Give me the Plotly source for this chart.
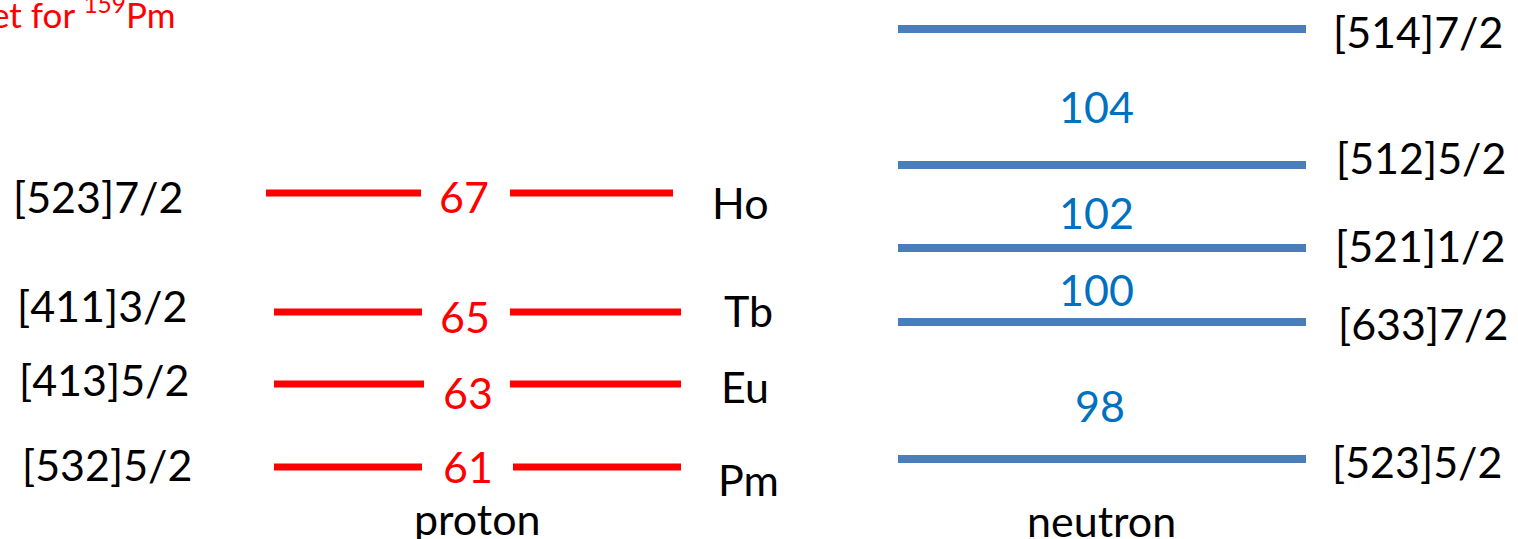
import plotly.graph_objects as go

# Single-particle orbitals (Nilsson labels) and level positions (arb. units, up = higher)
proton_labels = ["[532]5/2", "[413]5/2", "[411]3/2", "[523]7/2"]
proton_numbers = ["61", "63", "65", "67"]
proton_elements = ["Pm", "Eu", "Tb", "Ho"]
proton_energy = [72, 155, 227, 346]

neutron_labels = ["[523]5/2", "[633]7/2", "[521]1/2", "[512]5/2", "[514]7/2"]
neutron_energy = [80, 217, 291, 374, 510]
neutron_gap_numbers = ["98", "100", "102", "104"]
neutron_gap_energy = [134, 250, 327, 433]

title_text = "et for <sup>159</sup>Pm"

W, H = 1518, 539
FONT = "Lato"
RED = "#ff0000"
STEEL = "#4a7ebb"
BLUE = "#0070c0"
SIZE = 43

fig = go.Figure()

# proton levels: split line with the proton number in the gap
p_left = [(274, 422), (274, 424), (274, 422), (266, 421)]
p_right = [(513, 681), (510, 681), (510, 681), (510, 673)]
for i, e in enumerate(proton_energy):
    for seg in (p_left[i], p_right[i]):
        fig.add_trace(go.Scatter(x=list(seg), y=[e, e], mode="lines",
                                 line=dict(color=RED, width=7),
                                 hoverinfo="skip", showlegend=False))

# neutron levels
for e in neutron_energy:
    fig.add_trace(go.Scatter(x=[898, 1306], y=[e, e], mode="lines",
                             line=dict(color=STEEL, width=8),
                             hoverinfo="skip", showlegend=False))

ann = []
def txt(x, y, s, color="black", size=SIZE, xanchor="center"):
    ann.append(dict(x=x, y=y, text=s, showarrow=False, xanchor=xanchor,
                    yanchor="middle", font=dict(family=FONT, size=size, color=color)))

p_num_dx = [468, 468, 465, 464]
p_num_dy = [1, -8, -4, -3]
p_lab_x = [107, 104, 102, 98]
p_lab_dy = [3, 5, 7, -3]
p_el_x = [748, 745, 748, 740]
p_el_dy = [-12, -2, 2, -9]
for i, e in enumerate(proton_energy):
    txt(p_num_dx[i], e + p_num_dy[i], proton_numbers[i], RED)
    txt(p_lab_x[i], e + p_lab_dy[i], proton_labels[i])
    txt(p_el_x[i], e + p_el_dy[i], proton_elements[i])

n_lab_x = [1417, 1423, 1420, 1421, 1418]
n_lab_dy = [-2, -1, 3, 8, -2]
for i, e in enumerate(neutron_energy):
    txt(n_lab_x[i], e + n_lab_dy[i], neutron_labels[i])

n_gap_x = [1100, 1096, 1096, 1096]
for s, e, x in zip(neutron_gap_numbers, neutron_gap_energy, n_gap_x):
    txt(x, e, s, BLUE)

txt(477, 21, "proton")
txt(1101, 19, "neutron")
ann.append(dict(x=-0.007, y=527, xref="paper", yref="y", text=title_text,
                showarrow=False, xanchor="left", yanchor="middle",
                font=dict(family=FONT, size=35, color=RED)))

fig.update_layout(
    width=W, height=H, margin=dict(l=0, r=0, t=0, b=0),
    paper_bgcolor="white", plot_bgcolor="white",
    xaxis=dict(range=[0, W], visible=False, fixedrange=True),
    yaxis=dict(range=[0, H], visible=False, fixedrange=True),
    annotations=ann,
)

fig.write_html("out.html")
